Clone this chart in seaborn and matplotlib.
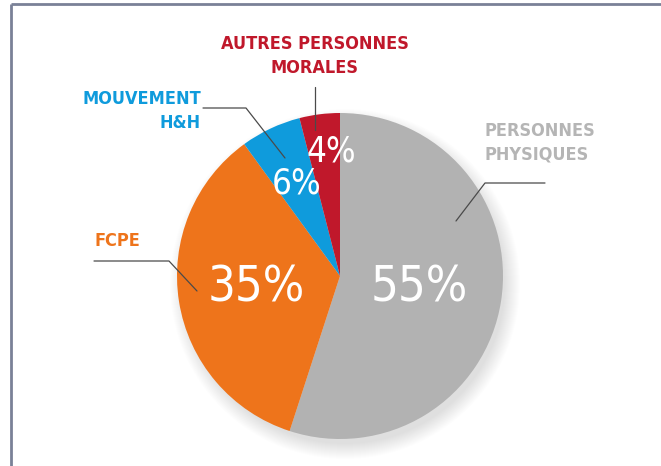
import matplotlib
matplotlib.use("Agg")
import matplotlib.pyplot as plt
import seaborn as sns
from matplotlib.patches import Circle

sns.set_theme(style="white")
plt.rcParams['font.family'] = ['DejaVu Sans']

# Data
categories = ["PERSONNES\nPHYSIQUES", "FCPE", "MOUVEMENT\nH&H", "AUTRES PERSONNES\nMORALES"]
values = [55, 35, 6, 4]
pct_labels = ["55%", "35%", "6%", "4%"]
colors = ["#b2b2b2", "#ee741b", "#0f9bdc", "#c0182b"]
text_colors = ["#b5b5b5", "#ee741b", "#0f9bdc", "#c0182b"]

W, H = 661, 466
fig = plt.figure(figsize=(W / 100, H / 100), dpi=100)
ax = fig.add_axes([0, 0, 1, 1])
ax.set_xlim(0, W)
ax.set_ylim(0, H)
ax.axis("off")

def Y(py):
    return H - py

cx, cy, R = 340, Y(276), 163

# soft shadow (bottom-right)
for k in range(16):
    ax.add_patch(Circle((cx + 5, cy - 8), R + 12 - k, color="black",
                        alpha=0.009, lw=0, zorder=0))

wedges, _ = ax.pie(values, colors=colors, startangle=90, counterclock=False,
                   center=(cx, cy), radius=R,
                   wedgeprops=dict(linewidth=0))
for w in wedges:
    w.set_zorder(2)
ax.set_xlim(0, W)
ax.set_ylim(0, H)
ax.set_aspect("auto")

# percentage labels
pct_pos = [(419, 287, 35), (256, 287, 35), (297, 183, 25), (331, 151, 25)]
for (px, py, fs), t in zip(pct_pos, pct_labels):
    ax.text(px, Y(py), t, color="white", fontsize=fs, ha="center", va="center",
            fontstretch="condensed", zorder=4)

# category labels
lab_fs = 13
ax.text(315, Y(56), categories[3], color=text_colors[3], fontsize=lab_fs,
        ha="center", va="center", linespacing=1.4, fontweight="bold",
        fontstretch="condensed", zorder=4)
ax.text(201, Y(111), categories[2], color=text_colors[2], fontsize=lab_fs,
        ha="right", va="center", linespacing=1.4, fontweight="bold",
        fontstretch="condensed", multialignment="right", zorder=4)
ax.text(95, Y(241), categories[1], color=text_colors[1], fontsize=lab_fs,
        ha="left", va="center", fontweight="bold",
        fontstretch="condensed", zorder=4)
ax.text(484, Y(143), categories[0], color=text_colors[0], fontsize=lab_fs,
        ha="left", va="center", linespacing=1.4, fontweight="bold",
        fontstretch="condensed", zorder=4)

# leader lines
lc = "#4a4a4a"
leaders = [
    [(315, 87), (315, 130)],
    [(203, 108), (246, 108), (285, 158)],
    [(94, 261), (169, 261), (197, 291)],
    [(545, 183), (485, 183), (456, 221)],
]
for pts in leaders:
    xs = [p[0] for p in pts]
    ys = [Y(p[1]) for p in pts]
    ax.plot(xs, ys, color=lc, lw=0.9, zorder=5)

# frame lines
fc = "#7a8197"
ax.plot([10.5, W], [Y(4), Y(4)], color=fc, lw=2, zorder=6, solid_capstyle="butt")
ax.plot([10.5, 10.5], [Y(4), 0], color=fc, lw=2, zorder=6, solid_capstyle="butt")

fig.savefig("out.png", dpi=100)
